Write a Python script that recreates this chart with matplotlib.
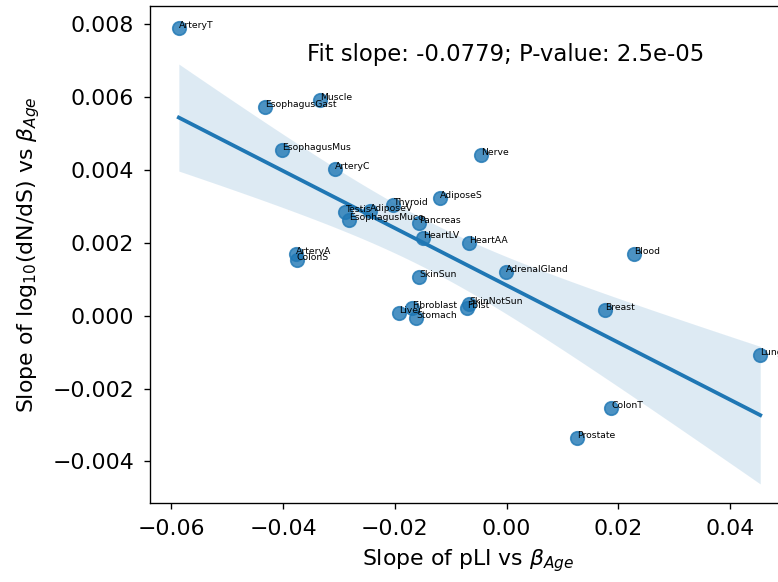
import numpy as np
import matplotlib
matplotlib.use("Agg")
import matplotlib.pyplot as plt

tissues = ["ArteryT", "Muscle", "EsophagusGast", "EsophagusMus", "ArteryC", "Nerve",
           "AdiposeS", "Thyroid", "AdiposeV", "Testis", "EsophagusMuco", "Pancreas",
           "HeartLV", "HeartAA", "ArteryA", "ColonS", "SkinSun", "AdrenalGland", "Blood",
           "Breast", "SkinNotSun", "Fblst", "Fibroblast", "Liver", "Stomach", "Lung",
           "ColonT", "Prostate"]
pli_slope = [-0.05864, -0.03339, -0.04324, -0.04020, -0.03071, -0.00457,
             -0.01191, -0.02032, -0.02444, -0.02892, -0.02820, -0.01567,
             -0.01496, -0.00671, -0.03769, -0.03751, -0.01567, -0.00009, 0.02283,
             0.01764, -0.00671, -0.00707, -0.01692, -0.01925, -0.01620, 0.04539,
             0.01871, 0.01262]
dnds_slope = [0.007893, 0.005918, 0.005726, 0.004546, 0.004025, 0.004409,
              0.003230, 0.003037, 0.002870, 0.002845, 0.002626, 0.002543,
              0.002131, 0.001994, 0.001693, 0.001528, 0.001062, 0.001199, 0.001693,
              0.000157, 0.000321, 0.000210, 0.000211, 0.000074, -0.000063, -0.001078,
              -0.002532, -0.003355]
annot_text = "Fit slope: -0.0779; P-value: 2.5e-05"

x = np.array(pli_slope)
y = np.array(dnds_slope)

fig = plt.figure(figsize=(778 / 121.5, 582 / 121.5), dpi=121.5)
ax = fig.add_axes([150 / 778, (582 - 503) / 582, (786 - 150) / 778, (503 - 6) / 582])

c0 = "#1f77b4"
ax.scatter(x, y, s=64, color=c0, alpha=0.8, linewidths=1, edgecolors=c0, zorder=3)

# regression line with analytic 95% CI
n = len(x)
b, a = np.polyfit(x, y, 1)
xg = np.linspace(x.min(), x.max(), 100)
yg = a + b * xg
resid = y - (a + b * x)
s = np.sqrt(np.sum(resid ** 2) / (n - 2))
sxx = np.sum((x - x.mean()) ** 2)
se = s * np.sqrt(1 / n + (xg - x.mean()) ** 2 / sxx)
t = 2.0
ax.fill_between(xg, yg - t * se, yg + t * se, color=c0, alpha=0.15, linewidth=0, zorder=1)
ax.plot(xg, yg, color=c0, lw=2.25, zorder=4)

for name, xi, yi in zip(tissues, x, y):
    ax.text(xi, yi, name, fontsize=5.5, zorder=5)

ax.text(0.247, 0.889, annot_text, transform=ax.transAxes, fontsize=13.5)

ax.set_xlim(-0.0638, 0.0500)
ax.set_ylim(-0.00514, 0.0085)
ax.set_xticks([-0.06, -0.04, -0.02, 0.00, 0.02, 0.04])
ax.set_yticks([-0.004, -0.002, 0.000, 0.002, 0.004, 0.006, 0.008])
ax.tick_params(labelsize=13, pad=6)
ax.set_xlabel(r"Slope of pLI vs $\beta_{Age}$", fontsize=13, labelpad=5)
ax.set_ylabel(r"Slope of log$_{10}$(dN/dS) vs $\beta_{Age}$", fontsize=13, labelpad=6)

fig.savefig("out.png", dpi=121.5)
